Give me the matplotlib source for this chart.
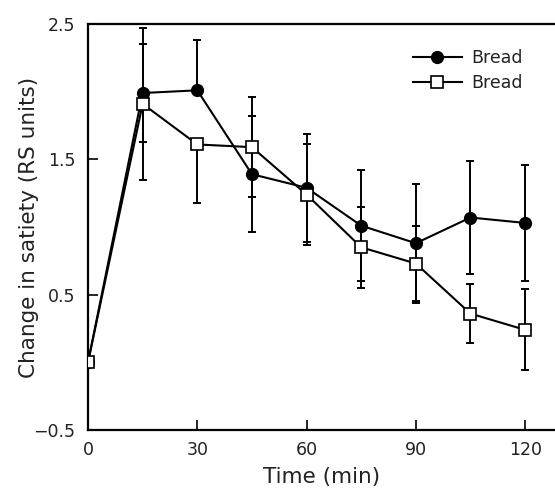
import matplotlib
matplotlib.use("Agg")
import matplotlib.pyplot as plt
import numpy as np

plt.rcParams['font.family'] = ['DejaVu Sans']

time_min = [0, 15, 30, 45, 60, 75, 90, 105, 120]
# filled circles
bread_a = [0.0, 1.99, 2.01, 1.39, 1.29, 1.01, 0.88, 1.07, 1.03]
bread_a_err_lo = [0.0, 0.36, 0.0, 0.43, 0.40, 0.41, 0.44, 0.42, 0.43]
bread_a_err_hi = [0.0, 0.36, 0.37, 0.43, 0.40, 0.41, 0.44, 0.42, 0.43]
# open squares
bread_b = [0.0, 1.91, 1.61, 1.59, 1.24, 0.85, 0.73, 0.36, 0.24]
bread_b_err_lo = [0.0, 0.56, 0.43, 0.37, 0.37, 0.30, 0.28, 0.22, 0.30]
bread_b_err_hi = [0.0, 0.56, 0.0, 0.37, 0.37, 0.30, 0.28, 0.22, 0.30]

series_labels = ["Bread", "Bread"]
xticks = [0, 30, 60, 90, 120]
yticks = [-0.5, 0.5, 1.5, 2.5]
ytick_labels = ["\u22120.5", "0.5", "1.5", "2.5"]

txt = '#222222'

fig = plt.figure(figsize=(5.55, 4.88), dpi=100)
ax = fig.add_axes([88/555, 58/488, 1 - 88/555, (430-24)/488])

ax.errorbar(time_min, bread_b, yerr=[bread_b_err_lo, bread_b_err_hi], fmt='none',
            ecolor='black', elinewidth=1.4, capsize=3, capthick=1.4, zorder=2)
ax.errorbar(time_min, bread_a, yerr=[bread_a_err_lo, bread_a_err_hi], fmt='none',
            ecolor='black', elinewidth=1.4, capsize=3, capthick=1.4, zorder=2)

ax.plot(time_min, bread_a, '-o', color='black', lw=1.5, ms=8.5,
        markerfacecolor='black', markeredgecolor='black', zorder=3, label=series_labels[0])
ax.plot(time_min, bread_b, '-s', color='black', lw=1.5, ms=8,
        markerfacecolor='white', markeredgecolor='black', markeredgewidth=1.2,
        zorder=4, label=series_labels[1])

ax.set_xlim(0, 128.2)
ax.set_ylim(-0.5, 2.5)
ax.set_xticks(xticks)
ax.set_yticks(yticks)
ax.set_yticklabels(ytick_labels)
ax.tick_params(direction='in', length=7, width=1.2, labelsize=12.5, colors='black',
               labelcolor=txt, pad=8)
ax.tick_params(axis='y', pad=9)

for s in ['left', 'bottom', 'top']:
    ax.spines[s].set_linewidth(1.6)
ax.spines['right'].set_visible(False)

ax.set_xlabel("Time (min)", fontsize=15.5, labelpad=6, color=txt)
ax.set_ylabel("Change in satiety (RS units)", fontsize=15.5, labelpad=-4, color=txt)

leg = ax.legend(loc='upper left', bbox_to_anchor=(413/555, (488-49)/488),
                bbox_transform=fig.transFigure, frameon=False, fontsize=12.5,
                handlelength=2.8, handletextpad=0.55, labelspacing=0.4, borderpad=0,
                borderaxespad=0)
for t in leg.get_texts():
    t.set_color(txt)

fig.savefig("out.png", dpi=100)
